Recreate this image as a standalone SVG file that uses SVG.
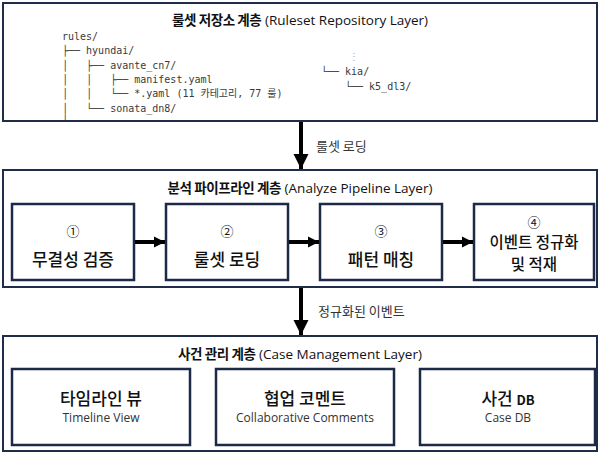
<svg xmlns="http://www.w3.org/2000/svg" width="600" height="453" viewBox="0 0 600 453">
  <style>
    .layer { fill: #ffffff; stroke: #1f2d4a; stroke-width: 2; }
    .stage { fill: #ffffff; stroke: #1c2a48; stroke-width: 2.5; }
    .title { font-family: "Noto Sans CJK KR", "Noto Sans", sans-serif; font-size: 13.5px; font-weight: bold; fill: #111; text-anchor: middle; }
    .title .ko { letter-spacing: -0.4px; }
    .title .en { font-family: "Open Sans", "Noto Sans", sans-serif; font-weight: normal; font-size: 13.5px; letter-spacing: 0; }
    .tree { font-family: "DejaVu Sans Mono", "Noto Sans CJK KR", monospace; font-size: 10px; fill: #3a3a3a; white-space: pre; }
    .dim { fill: #aaa; }
    .lbl { font-family: "Noto Sans CJK KR", sans-serif; font-size: 17px; font-weight: 500; fill: #111; text-anchor: middle; }
    .lbl.small { font-size: 15.5px; }
    .num { font-family: "Noto Sans CJK KR", "DejaVu Sans", sans-serif; font-size: 13px; fill: #111; text-anchor: middle; }
    .sub { font-family: "Open Sans", "Liberation Sans", sans-serif; font-size: 12px; fill: #333; text-anchor: middle; }
    .edge { font-family: "Noto Sans CJK KR", sans-serif; font-size: 13px; fill: #333; }
    .wire { stroke: #000; stroke-width: 4; fill: none; }
  </style>
  <defs>
    <marker id="headV" viewBox="0 0 10 10" refX="10" refY="5" markerWidth="3.8" markerHeight="3.8" markerUnits="strokeWidth" orient="auto">
      <path d="M0,0 L10,5 L0,10 Z" fill="#000"/>
    </marker>
    <marker id="headH" viewBox="0 0 10 10" refX="10" refY="5" markerWidth="2.8" markerHeight="2.8" markerUnits="strokeWidth" orient="auto">
      <path d="M0,0 L10,5 L0,10 Z" fill="#000"/>
    </marker>
    <clipPath id="repoClip">
      <rect x="4" y="4" width="592" height="116"/>
    </clipPath>
  </defs>

  <rect width="600" height="453" fill="#ffffff"/>

  <!-- Ruleset repository layer -->
  <g id="repo-layer">
    <rect class="layer" x="3" y="3" width="594" height="118"/>
    <text class="title" x="300" y="25"><tspan class="ko">룰셋 저장소 계층</tspan><tspan class="en"> (Ruleset Repository Layer)</tspan></text>
    <g clip-path="url(#repoClip)">
      <text class="tree" x="62" y="40">rules/</text>
      <text class="tree" x="62" y="54">├── hyundai/</text>
      <text class="tree" x="62" y="69">│   ├── avante_cn7/</text>
      <text class="tree" x="62" y="83">│   │   ├── manifest.yaml</text>
      <text class="tree" x="62" y="97">│   │   └── *.yaml (11 카테고리, 77 룰)</text>
      <text class="tree" x="62" y="112">│   └── sonata_dn8/</text>
      <text class="tree" x="62" y="124">│</text>
    </g>
    <text class="tree dim" x="349" y="60">⋮</text>
    <text class="tree" x="321" y="75">└── kia/</text>
    <text class="tree" x="345" y="90">└── k5_dl3/</text>
  </g>

  <!-- Analyze pipeline layer -->
  <g id="pipeline-layer">
    <rect class="layer" x="3" y="170" width="594" height="117"/>
    <text class="title" x="300" y="193"><tspan class="ko">분석 파이프라인 계층</tspan><tspan class="en"> (Analyze Pipeline Layer)</tspan></text>
  </g>
  <g id="stage-1">
    <rect class="stage" x="12" y="204" width="122" height="76"/>
    <text class="num" x="73" y="236">①</text>
    <text class="lbl" x="73" y="266">무결성 검증</text>
  </g>
  <g id="stage-2">
    <rect class="stage" x="166" y="204" width="122" height="76"/>
    <text class="num" x="227" y="236">②</text>
    <text class="lbl" x="227" y="266">룰셋 로딩</text>
  </g>
  <g id="stage-3">
    <rect class="stage" x="320" y="204" width="122" height="76"/>
    <text class="num" x="381" y="236">③</text>
    <text class="lbl" x="381" y="266">패턴 매칭</text>
  </g>
  <g id="stage-4">
    <rect class="stage" x="474" y="204" width="120" height="76"/>
    <text class="num" x="534" y="227">④</text>
    <text class="lbl small" x="534" y="248">이벤트 정규화</text>
    <text class="lbl small" x="534" y="270">및 적재</text>
  </g>

  <!-- Case management layer -->
  <g id="case-layer">
    <rect class="layer" x="3" y="336" width="594" height="115" stroke="#9aa6ba"/>
    <path d="M3,451 V336 H597 V451" fill="none" stroke="#1f2d4a" stroke-width="2"/>
    <text class="title" x="300" y="359"><tspan class="ko">사건 관리 계층</tspan><tspan class="en"> (Case Management Layer)</tspan></text>
  </g>
  <g id="timeline-view">
    <rect class="stage" x="12" y="369" width="178" height="76"/>
    <text class="lbl" x="101" y="405">타임라인 뷰</text>
    <text class="sub" x="101" y="422">Timeline View</text>
  </g>
  <g id="collab-comments">
    <rect class="stage" x="216" y="369" width="178" height="76"/>
    <text class="lbl" x="305" y="405">협업 코멘트</text>
    <text class="sub" x="305" y="422">Collaborative Comments</text>
  </g>
  <g id="case-db">
    <rect class="stage" x="420" y="369" width="175" height="76"/>
    <text class="lbl" x="508" y="405">사건 <tspan font-size="13" font-weight="bold">DB</tspan></text>
    <text class="sub" x="508" y="422">Case DB</text>
  </g>

  <!-- Connectors -->
  <g id="connectors">
    <line class="wire" x1="301" y1="122" x2="301" y2="169" marker-end="url(#headV)"/>
    <text class="edge" x="316" y="151">룰셋 로딩</text>
    <line class="wire" x1="301" y1="288" x2="301" y2="335" marker-end="url(#headV)"/>
    <text class="edge" x="318" y="316">정규화된 이벤트</text>
    <line class="wire" x1="135" y1="242" x2="165" y2="242" marker-end="url(#headH)"/>
    <line class="wire" x1="289" y1="242" x2="319" y2="242" marker-end="url(#headH)"/>
    <line class="wire" x1="443" y1="242" x2="473" y2="242" marker-end="url(#headH)"/>
  </g>
</svg>
